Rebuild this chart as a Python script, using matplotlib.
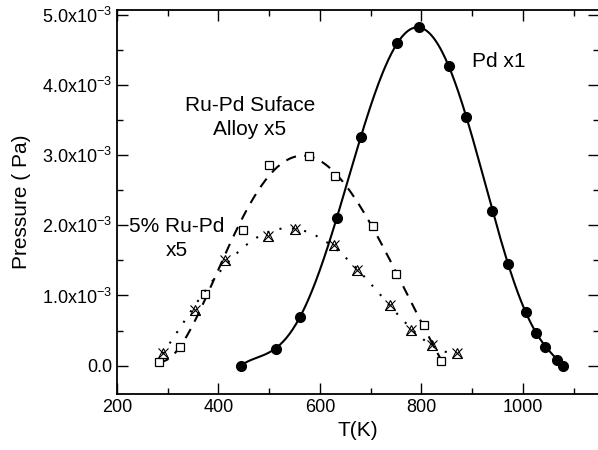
import numpy as np
import matplotlib
matplotlib.use("Agg")
import matplotlib.pyplot as plt

plt.rcParams['font.family'] = ['Liberation Sans', 'DejaVu Sans']
plt.rcParams['mathtext.default'] = 'regular'

# Pd x1 (filled circles)
pd_T = [444, 513, 560, 633, 681, 752, 795, 854, 888, 940, 971, 1007, 1026, 1044, 1067, 1079]
pd_P = [0.0, 0.24, 0.70, 2.10, 3.26, 4.60, 4.83, 4.27, 3.54, 2.21, 1.45, 0.76, 0.46, 0.27, 0.08, 0.0]

# Ru-Pd surface alloy x5 (open squares)
sa_T = [282, 324, 374, 449, 499, 578, 630, 704, 749, 806, 838]
sa_P = [0.05, 0.27, 1.02, 1.94, 2.86, 2.99, 2.70, 1.99, 1.31, 0.58, 0.07]

# 5% Ru-Pd x5 (triangle + cross)
bulk_T = [290, 353, 412, 497, 550, 627, 672, 738, 779, 820, 870]
bulk_P = [0.18, 0.80, 1.50, 1.85, 1.95, 1.72, 1.37, 0.87, 0.51, 0.30, 0.18]

y_ticks = [0, 1, 2, 3, 4, 5]
y_labels = ['0.0', '1.0x10$^{-3}$', '2.0x10$^{-3}$', '3.0x10$^{-3}$',
            '4.0x10$^{-3}$', '5.0x10$^{-3}$']
x_ticks = [200, 400, 600, 800, 1000]


def smooth(T, P, deg):
    # least-squares polynomial through the measured points
    T = np.asarray(T, float)
    P = np.asarray(P, float)
    c = np.polyfit(T, P, deg)
    tt = np.linspace(T.min(), T.max(), 300)
    return tt, np.polyval(c, tt) * 1e-3


fig = plt.figure(figsize=(5.98, 4.5), dpi=100)
ax = fig.add_axes([0.1957, 0.1251, 0.806, 0.8527])

tt, pp = smooth(pd_T, pd_P, 7)
ax.plot(tt, pp, '-', color='black', lw=1.5)
ax.plot(pd_T, np.array(pd_P) * 1e-3, 'o', color='black', ms=7)

tt, pp = smooth(sa_T, sa_P, 5)
ax.plot(tt, pp, '--', color='black', lw=1.5, dashes=(5, 4))
ax.plot(sa_T, np.array(sa_P) * 1e-3, 's', mfc='white', mec='black', ms=6, mew=0.9)

tt, pp = smooth(bulk_T, bulk_P, 5)
ax.plot(tt, pp, ':', color='black', lw=1.5, dashes=(1, 5))
ax.plot(bulk_T, np.array(bulk_P) * 1e-3, '^', mfc='none', mec='black', ms=7, mew=0.8)
ax.plot(bulk_T, np.array(bulk_P) * 1e-3, 'x', color='black', ms=7, mew=0.8)

ax.set_xlim(200, 1150)
ax.set_ylim(-0.4e-3, 5.07e-3)
ax.set_xticks(x_ticks)
ax.set_xticks(np.arange(300, 1150, 200), minor=True)
ax.set_yticks(np.array(y_ticks) * 1e-3)
ax.set_yticklabels(y_labels)
ax.set_yticks(np.arange(0.5, 5, 1) * 1e-3, minor=True)
ax.tick_params(which='both', direction='in', top=True, right=True, labelsize=13, width=1)
ax.tick_params(which='major', length=8)
ax.tick_params(which='minor', length=4)
for s in ax.spines.values():
    s.set_linewidth(1.3)

ax.set_xlabel('T(K)', fontsize=15, labelpad=4)
ax.set_ylabel('Pressure ( Pa)', fontsize=15, labelpad=8)

ax.text(900, 4.33e-3, 'Pd x1', fontsize=15, ha='left', va='center')
ax.text(462, 3.54e-3, 'Ru-Pd Suface\nAlloy x5', fontsize=15, ha='center', va='center',
        linespacing=1.35)
ax.text(318, 1.81e-3, '5% Ru-Pd\nx5', fontsize=15, ha='center', va='center',
        linespacing=1.35)

fig.savefig('out.png', dpi=100)
